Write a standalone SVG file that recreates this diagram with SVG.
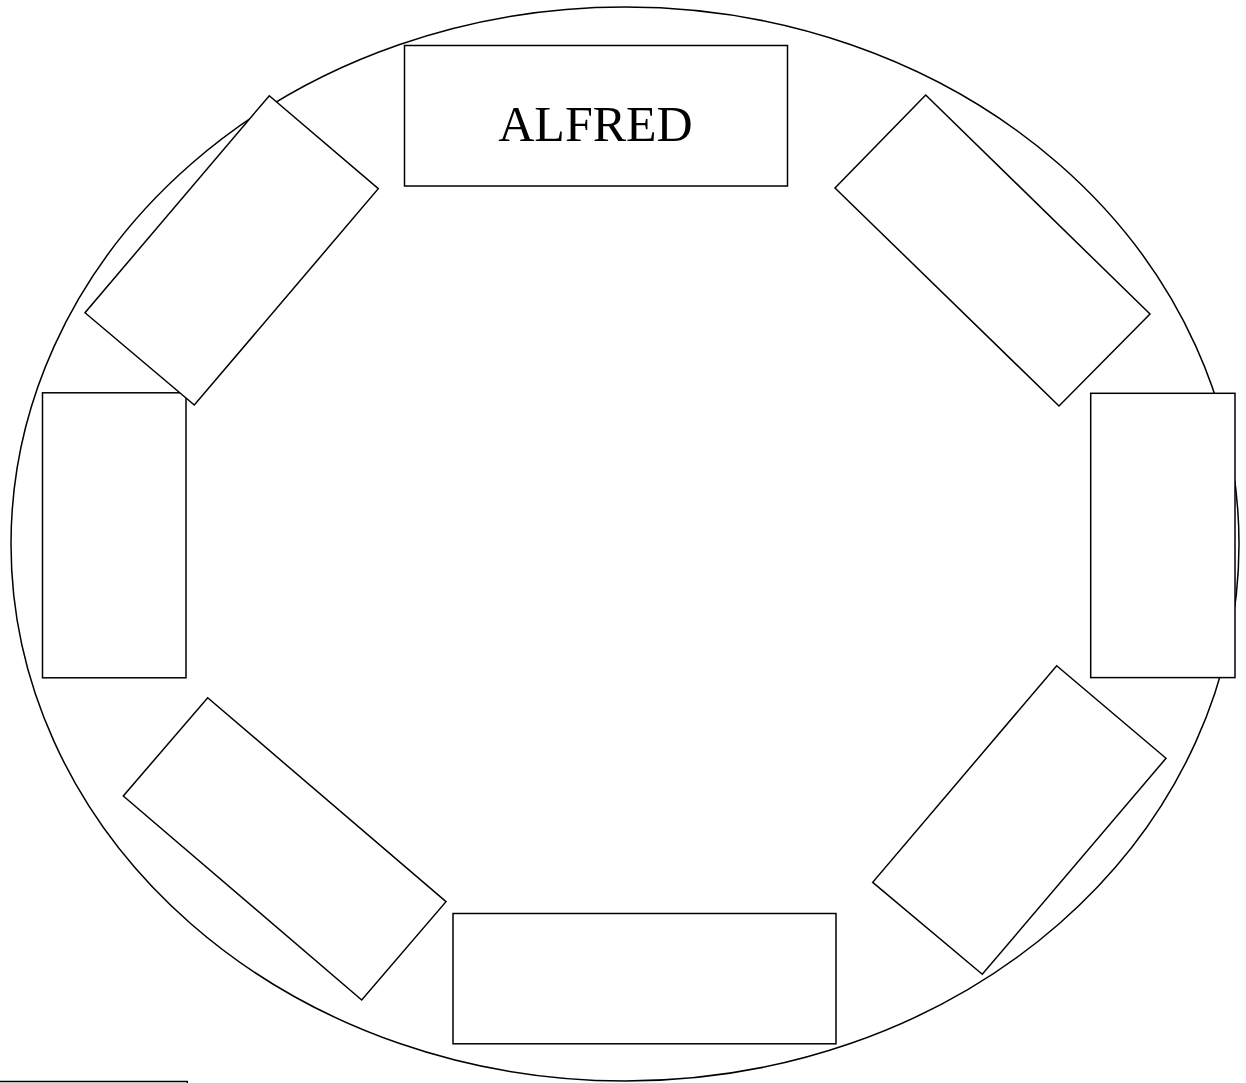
<svg xmlns="http://www.w3.org/2000/svg" width="1246" height="1083" viewBox="0 0 1246 1083">
<style>
.s{fill:#fff;stroke:#000;stroke-width:1.5}
.t{font-family:"Liberation Serif","Times New Roman",serif;font-size:50px;fill:#000;text-anchor:middle}
</style>
<rect width="1246" height="1083" fill="#fff"/>
<ellipse id="table" class="s" cx="625" cy="544" rx="614" ry="537"/>
<g id="seat-top"><rect class="s" x="404.5" y="45.5" width="383" height="140.5"/><text class="t" x="595.5" y="141">ALFRED</text></g>
<g id="seat-top-right"><polygon class="s" points="925.7,95 1150,314 1059,406 835,188"/></g>
<g id="seat-right"><rect class="s" x="1090.7" y="393.3" width="144.3" height="284.3"/></g>
<g id="seat-bottom-right"><polygon class="s" points="1056.7,665.7 1166,758.3 982.3,974.3 872.7,882.3"/></g>
<g id="seat-bottom"><rect class="s" x="453" y="913.5" width="383" height="130.3"/></g>
<g id="seat-bottom-left"><polygon class="s" points="207.7,697.7 446,901.7 361.7,1000 123.3,796"/></g>
<g id="seat-left"><rect class="s" x="42.5" y="392.8" width="143.5" height="285"/></g>
<g id="seat-top-left"><polygon class="s" points="269.3,95.7 378.3,188.7 194.3,405 85,312.7"/></g>
<g id="extra"><rect class="s" x="-2" y="1081.5" width="189.3" height="10"/></g>
<g id="connectors"></g>
</svg>
